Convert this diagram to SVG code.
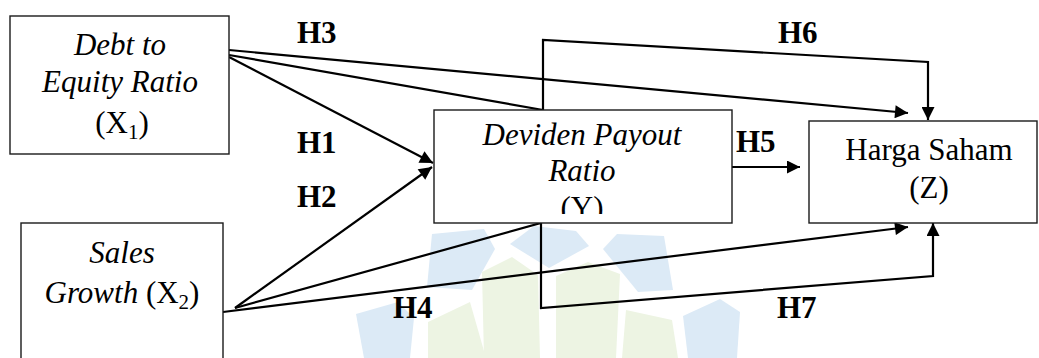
<svg xmlns="http://www.w3.org/2000/svg" width="1039" height="358" viewBox="0 0 1039 358">
<style>
.box{fill:#fff;stroke:#1a1a1a;stroke-width:1.4}
.t{font-family:"Liberation Serif","Times New Roman",serif;font-size:31px;fill:#000;text-anchor:middle}
.i{font-style:italic}
.lbl{font-family:"Liberation Serif","Times New Roman",serif;font-size:31px;font-weight:bold;fill:#000}
.c{fill:none;stroke:#000;stroke-width:2.2;stroke-linejoin:miter}
.wb{fill:#dceaf6}
.wg{fill:#edf4e3}
</style>
<defs>
<marker id="arr" viewBox="0 0 10 10" refX="10" refY="5" markerWidth="15" markerHeight="13" markerUnits="userSpaceOnUse" orient="auto">
<path d="M0,0 L10,5 L0,10 z" fill="#000"/>
</marker>
<clipPath id="clipY"><rect x="434" y="110" width="298" height="104"/></clipPath>
</defs>
<rect width="1039" height="358" fill="#fff"/>
<g id="watermark">
<polygon class="wb" points="510,244 534,226 576,231 589,246 549,268"/>
<polygon class="wb" points="432,234 484,229 495,249 472,290 427,287"/>
<polygon class="wb" points="603,249 617,234 664,236 673,290 638,292"/>
<polygon class="wb" points="356,314 398,302 414,318 410,358 364,358"/>
<polygon class="wb" points="683,316 720,299 740,312 737,358 688,358"/>
<polygon class="wg" points="482,272 512,257 538,275 540,358 484,358"/>
<polygon class="wg" points="556,276 588,262 620,274 616,358 556,358"/>
<polygon class="wg" points="428,322 470,302 486,358 428,358"/>
<polygon class="wg" points="626,310 672,320 678,358 622,358"/>
</g>
<g id="connectors">
<path class="c" d="M229,50 L908,113" marker-end="url(#arr)"/>
<path class="c" d="M229,55 L543,110 L543,40 L928,62 L928,120" marker-end="url(#arr)"/>
<path class="c" d="M229,57 L433,163" marker-end="url(#arr)"/>
<path class="c" d="M235,308 L432,167" marker-end="url(#arr)"/>
<path class="c" d="M223,312 L908,227" marker-end="url(#arr)"/>
<path class="c" d="M235,308 L541,223 L541,308 L933,276 L933,223" marker-end="url(#arr)"/>
<path class="c" d="M732,167 L800,167" marker-end="url(#arr)"/>
</g>
<g id="node-x1">
<rect class="box" x="10" y="16" width="219" height="138"/>
<text class="t i" x="120" y="55">Debt to</text>
<text class="t i" x="120" y="92">Equity Ratio</text>
<text class="t" x="122" y="133">(X<tspan font-size="21" dy="6">1</tspan><tspan dy="-6">)</tspan></text>
</g>
<g id="node-x2">
<rect class="box" x="21" y="223" width="202" height="140"/>
<text class="t i" x="122" y="263">Sales</text>
<text class="t" x="122" y="303"><tspan font-style="italic">Growth</tspan> (X<tspan font-size="21" dy="6">2</tspan><tspan dy="-6">)</tspan></text>
</g>
<g id="node-y">
<rect class="box" x="434" y="110" width="298" height="113"/>
<g clip-path="url(#clipY)">
<text class="t i" x="582" y="145">Deviden Payout</text>
<text class="t i" x="582" y="181">Ratio</text>
<text class="t" x="582" y="218">(Y)</text>
</g>
</g>
<g id="node-z">
<rect class="box" x="809" y="121" width="228" height="102"/>
<text class="t" x="929" y="160">Harga Saham</text>
<text class="t" x="929" y="198">(Z)</text>
</g>
<g id="labels">
<text class="lbl" x="297" y="43">H3</text>
<text class="lbl" x="778" y="43">H6</text>
<text class="lbl" x="297" y="153">H1</text>
<text class="lbl" x="297" y="207">H2</text>
<text class="lbl" x="736" y="152">H5</text>
<text class="lbl" x="393" y="318">H4</text>
<text class="lbl" x="777" y="318">H7</text>
</g>
</svg>
